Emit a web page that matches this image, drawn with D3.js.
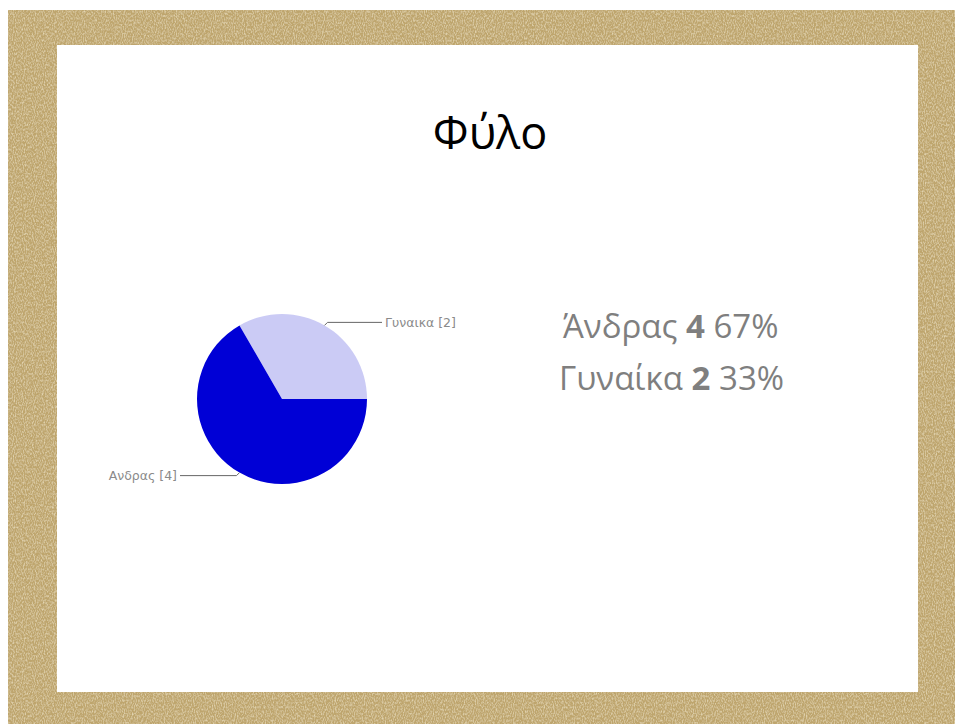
<!DOCTYPE html>
<html>
<head>
<meta charset="utf-8">
<script src="https://cdn.jsdelivr.net/npm/d3@7"></script>
<style>
  html, body { margin: 0; padding: 0; background: #fff; }
  svg { display: block; }
</style>
</head>
<body>
<svg id="chart" width="955" height="724"></svg>
<script>
// Survey answers for the "Φύλο" (gender) question
const categories = ["Γυναίκα", "Άνδρας"];
const pieLabels = ["Γυναικα", "Ανδρας"];
const counts = [2, 4];
const percents = [33, 67];
const sliceColors = ["#cbcbf5", "#0000d6"];
// Summary lines listed on the right, in this order
const summaryOrder = ["Άνδρας", "Γυναίκα"];
const title = "Φύλο";

const W = 955, H = 724;
const svg = d3.select("#chart");

// Burlap-like frame
const defs = svg.append("defs");
const filt = defs.append("filter").attr("id", "burlap")
  .attr("x", 0).attr("y", 0).attr("width", "100%").attr("height", "100%");
filt.append("feTurbulence").attr("type", "fractalNoise")
  .attr("baseFrequency", "0.9 0.45").attr("numOctaves", 2).attr("seed", 3).attr("result", "noise");
filt.append("feColorMatrix").attr("in", "noise").attr("type", "matrix")
  .attr("values", "0 0 0 0 0.95  0 0 0 0 0.87  0 0 0 0 0.64  0 0 0 1.2 -0.48").attr("result", "light");
filt.append("feComposite").attr("in", "light").attr("in2", "SourceGraphic").attr("operator", "atop");

svg.append("rect").attr("x", 8).attr("y", 10).attr("width", W - 8).attr("height", H - 10)
  .attr("fill", "#bea56d").attr("filter", "url(#burlap)");
svg.append("rect").attr("x", 57).attr("y", 45).attr("width", 861).attr("height", 647)
  .attr("fill", "#ffffff");

// Title
svg.append("text")
  .attr("x", 490).attr("y", 149)
  .attr("text-anchor", "middle")
  .attr("font-family", "'Open Sans', 'Noto Sans', sans-serif")
  .attr("font-size", 45)
  .attr("fill", "#000")
  .text(title);

// Pie
const cx = 282, cy = 399, r = 85;
const data = categories.map((c, i) => ({ name: pieLabels[i], value: counts[i], color: sliceColors[i] }));
const pie = d3.pie().sort(null).value(d => d.value)
  .startAngle(-Math.PI / 6).endAngle(2 * Math.PI - Math.PI / 6);
const arcs = pie(data);
const arc = d3.arc().innerRadius(0).outerRadius(r);

const g = svg.append("g").attr("transform", `translate(${cx},${cy})`);
g.selectAll("path.slice").data(arcs).join("path")
  .attr("class", "slice")
  .attr("d", arc)
  .attr("fill", d => d.data.color);

// Callout labels
const labelFont = "'DejaVu Sans', sans-serif";
arcs.forEach(a => {
  const mid = (a.startAngle + a.endAngle) / 2;
  const px = Math.sin(mid) * r, py = -Math.cos(mid) * r;
  const right = Math.sin(mid) > 0;
  const ky = py + (right ? -3 : 3);
  const kx = px + (right ? 3 : -3);
  const ex = right ? 100 : -102;
  g.append("path")
    .attr("d", `M${px},${py}L${kx},${ky}L${ex},${ky}`)
    .attr("fill", "none").attr("stroke", "#666").attr("stroke-width", 1);
  g.append("text")
    .attr("x", right ? ex + 3 : ex - 3).attr("y", ky)
    .attr("dy", "0.35em")
    .attr("text-anchor", right ? "start" : "end")
    .attr("font-family", labelFont).attr("font-size", 12.5)
    .attr("fill", "#8a8a8a")
    .text(`${a.data.name} [${a.data.value}]`);
});

// Summary text
const summary = svg.append("g").attr("font-family", "'Open Sans', 'Noto Sans', sans-serif")
  .attr("font-size", 33).attr("fill", "#7f7f7f");
summaryOrder.forEach((name, i) => {
  const k = categories.indexOf(name);
  const t = summary.append("text").attr("x", i === 0 ? 563 : 559).attr("y", 338 + i * 52);
  t.append("tspan").text(name + " ");
  t.append("tspan").attr("font-weight", "bold").text(counts[k]);
  t.append("tspan").text(" " + percents[k] + "%");
});
</script>
</body>
</html>
